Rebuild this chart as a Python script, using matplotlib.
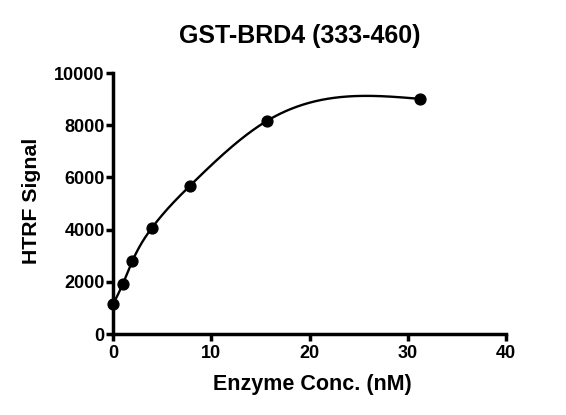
import numpy as np
import matplotlib.pyplot as plt

plt.rcParams['font.family'] = ['Liberation Sans', 'DejaVu Sans']
plt.rcParams['font.weight'] = 'bold'

# enzyme concentration (nM) and HTRF signal
conc = [0, 0.977, 1.953, 3.906, 7.8125, 15.625, 31.25]
signal = [1150, 1920, 2800, 4050, 5680, 8160, 9010]

x_ticks = [0, 10, 20, 30, 40]
y_ticks = [0, 2000, 4000, 6000, 8000, 10000]


def natural_spline(x, y, xs):
    # natural cubic spline through the points (like Prism's spline curve)
    x = np.asarray(x, float)
    y = np.asarray(y, float)
    n = len(x)
    h = np.diff(x)
    A = np.zeros((n, n))
    b = np.zeros(n)
    A[0, 0] = 1
    A[-1, -1] = 1
    for i in range(1, n - 1):
        A[i, i - 1] = h[i - 1]
        A[i, i] = 2 * (h[i - 1] + h[i])
        A[i, i + 1] = h[i]
        b[i] = 6 * ((y[i + 1] - y[i]) / h[i] - (y[i] - y[i - 1]) / h[i - 1])
    M = np.linalg.solve(A, b)
    idx = np.clip(np.searchsorted(x, xs) - 1, 0, n - 2)
    x0, x1 = x[idx], x[idx + 1]
    hh = x1 - x0
    return (M[idx] * (x1 - xs) ** 3 / (6 * hh) + M[idx + 1] * (xs - x0) ** 3 / (6 * hh)
            + (y[idx] / hh - M[idx] * hh / 6) * (x1 - xs)
            + (y[idx + 1] / hh - M[idx + 1] * hh / 6) * (xs - x0))


xfit = np.linspace(0, max(conc), 300)
yfit = natural_spline(conc, signal, xfit)

fig = plt.figure(figsize=(5.66, 4.15), dpi=100)
ax = fig.add_axes([0.2, 0.195, 0.694, 0.629])

ax.plot(xfit, yfit, color='black', lw=1.7, clip_on=False, zorder=2)
ax.plot(conc, signal, 'o', color='black', ms=7.8, clip_on=False, zorder=3)

ax.set_xlim(0, 40)
ax.set_ylim(0, 10000)
ax.set_xticks(x_ticks)
ax.set_yticks(y_ticks)

for s in ['top', 'right']:
    ax.spines[s].set_visible(False)
for s in ['left', 'bottom']:
    ax.spines[s].set_linewidth(2.5)
ax.tick_params(width=2.5, length=5, labelsize=13)
ax.tick_params(axis='y', pad=1)
ax.tick_params(axis='x', pad=3)
for lab in ax.get_xticklabels() + ax.get_yticklabels():
    lab.set_fontweight('bold')

fig.text(300 / 566, 1 - 43 / 415, 'GST-BRD4 (333-460)', fontsize=18,
         fontweight='bold', ha='center', va='baseline')
ax.set_xlabel('Enzyme Conc. (nM)', fontsize=15.5, fontweight='bold', va='baseline')
ax.xaxis.set_label_coords(0.506, -0.2146)
ax.set_ylabel('HTRF Signal', fontsize=15.3, fontweight='bold', va='center')
ax.yaxis.set_label_coords(-0.208, 0.51)

fig.savefig('out.png', dpi=100)
